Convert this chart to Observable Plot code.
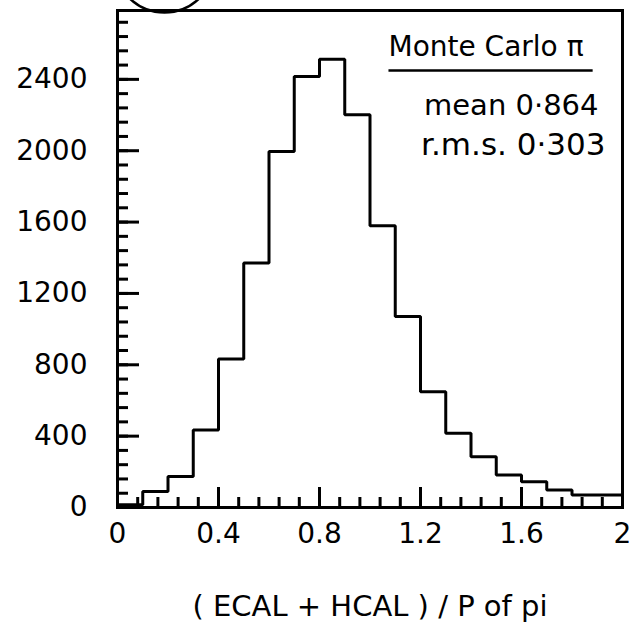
<!DOCTYPE html>
<html>
<head>
<meta charset="utf-8">
<script src="https://cdn.jsdelivr.net/npm/d3@7"></script>
<script src="https://cdn.jsdelivr.net/npm/@observablehq/plot@0.6"></script>
<style>
  body { margin: 0; background: #fff; }
  #chart svg { display: block; }
</style>
</head>
<body>
<div id="chart"></div>
<script>
// ---- data ----
const binEdges = [0.0, 0.1, 0.2, 0.3, 0.4, 0.5, 0.6, 0.7, 0.8, 0.9,
                  1.0, 1.1, 1.2, 1.3, 1.4, 1.5, 1.6, 1.7, 1.8, 1.9];
const counts   = [15, 89, 174, 435, 833, 1371, 1995, 2416, 2513, 2201,
                  1580, 1070, 649, 416, 285, 182, 145, 98, 70, 70];
const xEnd = 2.0;
const yTop = 2786;

const xTicks = [0, 0.4, 0.8, 1.2, 1.6, 2];
const xTickLabels = ["0", "0.4", "0.8", "1.2", "1.6", "2"];
const yTicks = [0, 400, 800, 1200, 1600, 2000, 2400];
const yTickLabels = ["0", "400", "800", "1200", "1600", "2000", "2400"];
const xMinorStep = 0.08;
const yMinorStep = 80;

const xLabel = "( ECAL + HCAL ) / P of pi";
const notes = ["Monte Carlo π", "mean 0·864", "r.m.s. 0·303"];
const figureMarker = [{x: 0.186, y: 3055}];

// ---- build ----
const W = 637, H = 626;
const mL = 117, mR = 15, mT = 10, mB = 119;
const fw = W - mL - mR, fh = H - mT - mB;

const steps = binEdges.map((x, i) => ({x, y: counts[i]}));
steps.push({x: xEnd, y: counts[counts.length - 1]});

const xMinor = d3.range(0, xEnd + 1e-9, xMinorStep);
const yMinor = d3.range(0, yTop, yMinorStep);

const font = "DejaVu Sans";

const plot = Plot.plot({
  width: W, height: H,
  marginLeft: mL, marginRight: mR, marginTop: mT, marginBottom: mB,
  style: {fontFamily: font, background: "#fff", color: "#000"},
  x: {domain: [0, xEnd]},
  y: {domain: [0, yTop]},
  marks: [
    // minor + major inward ticks
    Plot.ruleX(xMinor, {x: d => d, insetTop: fh - 10, stroke: "#000", strokeWidth: 3}),
    Plot.ruleX(xTicks, {x: d => d, insetTop: fh - 20, stroke: "#000", strokeWidth: 3}),
    Plot.ruleY(yMinor, {y: d => d, insetRight: fw - 11, stroke: "#000", strokeWidth: 3}),
    Plot.ruleY(yTicks, {y: d => d, insetRight: fw - 22, stroke: "#000", strokeWidth: 3}),
    // histogram outline
    Plot.line(steps, {x: "x", y: "y", curve: "step-after", stroke: "#000", strokeWidth: 3,
                      strokeLinejoin: "miter", strokeLinecap: "square"}),
    Plot.frame({stroke: "#000", strokeWidth: 3}),
    // axes labels
    Plot.axisX(xTicks, {tickSize: 0, tickPadding: 16, fontSize: 28, label: null,
                        tickFormat: d => xTickLabels[xTicks.indexOf(d)]}),
    Plot.axisY(yTicks, {tickSize: 0, tickPadding: 30, fontSize: 28, label: null,
                        tickFormat: d => yTickLabels[yTicks.indexOf(d)]}),
    Plot.text([xLabel], {frameAnchor: "bottom", dy: 99, fontSize: 29, lineAnchor: "middle", fill: "#000"}),
    // annotations
    Plot.text([notes[0]], {frameAnchor: "top-right", textAnchor: "end", lineAnchor: "middle",
                           dx: -39, dy: 37, fontSize: 28, fill: "#000", className: "note-title"}),
    Plot.text([notes[1]], {frameAnchor: "top-right", textAnchor: "end", lineAnchor: "middle",
                           dx: -24, dy: 95, fontSize: 29, fill: "#000"}),
    Plot.text([notes[2]], {frameAnchor: "top-right", textAnchor: "end", lineAnchor: "middle",
                           dx: -17, dy: 135, fontSize: 31, fill: "#000"}),
    // circled figure marker (cut off at top)
    Plot.dot(figureMarker, {x: "x", y: "y", r: 50, stroke: "#000", strokeWidth: 2.5, fill: "none", clip: false})
  ]
});

document.getElementById("chart").appendChild(plot);

// underline the title note, based on its rendered box
const t = plot.querySelector(".note-title text") || Array.from(plot.querySelectorAll("text")).find(e => e.textContent === notes[0]);
if (t) {
  const b = t.getBBox();
  const g = t.parentNode;
  const line = document.createElementNS("http://www.w3.org/2000/svg", "line");
  line.setAttribute("x1", b.x);
  line.setAttribute("x2", b.x + b.width + 9);
  line.setAttribute("y1", b.y + b.height + 7);
  line.setAttribute("y2", b.y + b.height + 7);
  line.setAttribute("stroke", "#000");
  line.setAttribute("stroke-width", 2.5);
  if (t.getAttribute("transform")) line.setAttribute("transform", t.getAttribute("transform"));
  g.appendChild(line);
}
</script>
</body>
</html>
